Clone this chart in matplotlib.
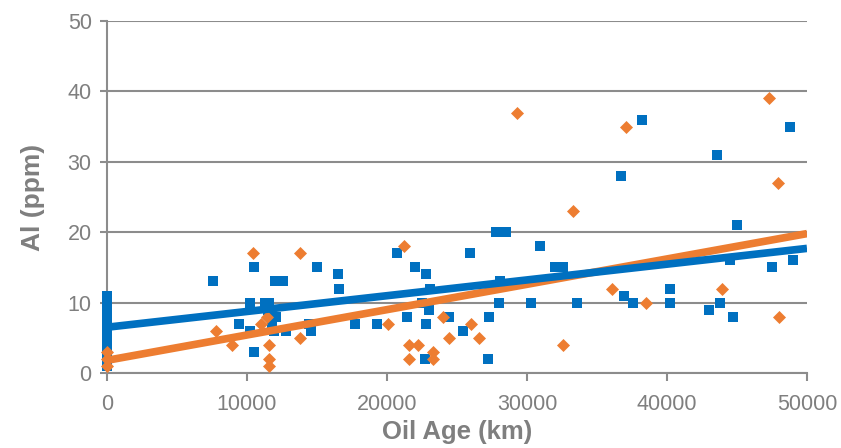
import matplotlib.pyplot as plt
import numpy as np

plt.rcParams['font.family'] = ['Liberation Sans', 'DejaVu Sans']

# blue series (squares)
blue_x = [0, 0, 0, 0, 0, 0, 0, 0, 0, 0, 0,
          7600, 9400, 10200, 10200, 10500, 10500, 11300, 11600, 11500, 12100,
          11800, 11900, 12000, 12600, 12800, 14400, 14600, 15000, 16500, 16600,
          17700, 19300, 20700, 21400, 22000, 22500, 22800, 22800, 22700, 23000,
          23100, 24400, 25400, 25900, 27300, 27200, 27800, 28500, 28000, 28100,
          30300, 30900, 32000, 32600, 33600, 36700, 36900, 37600, 38200, 40200,
          40200, 43000, 43600, 43800, 44500, 44700, 45000, 47500, 48800, 49000]
blue_y = [1, 2, 3, 4, 5, 6, 7, 8, 9, 10, 11,
          13, 7, 10, 6, 15, 3, 10, 10, 9, 8,
          7, 6, 13, 13, 6, 7, 6, 15, 14, 12,
          7, 7, 17, 8, 15, 10, 14, 7, 2, 9,
          12, 8, 6, 17, 8, 2, 20, 20, 10, 13,
          10, 18, 15, 15, 10, 28, 11, 10, 36, 12,
          10, 9, 31, 10, 16, 8, 21, 15, 35, 16]

# orange series (diamonds)
orange_x = [0, 0, 0,
            7800, 8900, 10400, 11000, 11400, 11600, 11600, 11600, 13800, 13800,
            20100, 21200, 21600, 22200, 21600, 23300, 23300, 24000, 24400, 26000,
            26600, 29300, 32600, 33300, 36100, 37100, 38500, 43900, 47300, 47900,
            48000]
orange_y = [1, 2, 3,
            6, 4, 17, 7, 8, 4, 2, 1, 17, 5,
            7, 18, 4, 4, 2, 3, 2, 8, 5, 7,
            5, 37, 4, 23, 12, 35, 10, 12, 39, 27,
            8]

# linear trendlines as shown in the chart (slope, intercept)
blue_fit = [0.000224, 6.5]
orange_fit = [0.00036, 1.8]

blue = '#0070C0'
orange = '#ED7D31'
gray = '#7F7F7F'

fig = plt.figure(figsize=(8.41, 4.48), dpi=100)
ax = fig.add_axes([107 / 841, 75 / 448, 700 / 841, 352 / 448])

ax.scatter(blue_x, blue_y, marker='s', s=52, color=blue, zorder=3,
           linewidths=0, clip_on=False)
ax.scatter(orange_x, orange_y, marker='D', s=44, color=orange, zorder=3,
           linewidths=0, clip_on=False)

xs = np.array([0, 50000])
ax.plot(xs, np.polyval(orange_fit, xs), color=orange, lw=5.5, zorder=4,
        solid_capstyle='butt')
ax.plot(xs, np.polyval(blue_fit, xs), color=blue, lw=5.5, zorder=4,
        solid_capstyle='butt')

ax.set_xlim(0, 50000)
ax.set_ylim(0, 50)
ax.set_xticks(range(0, 50001, 10000))
ax.set_yticks(range(0, 51, 10))
ax.yaxis.grid(True, color='#8C8C8C', lw=1.5)
ax.set_axisbelow(True)

for s in ['top', 'right']:
    ax.spines[s].set_visible(False)
for s in ['left', 'bottom']:
    ax.spines[s].set_color('#8C8C8C')
    ax.spines[s].set_linewidth(1.5)

ax.tick_params(axis='x', colors='#8C8C8C', length=6, width=1.5, labelsize=15.5,
               labelcolor=gray, pad=9)
ax.tick_params(axis='y', colors='#8C8C8C', length=5, width=1.5, labelsize=15.5,
               labelcolor=gray, pad=6)

ax.set_xlabel('Oil Age (km)', fontsize=18.5, fontweight='bold', color=gray, labelpad=4)
ax.set_ylabel('Al (ppm)', fontsize=19, fontweight='bold', color=gray, labelpad=16)

fig.savefig('out.png', dpi=100)
